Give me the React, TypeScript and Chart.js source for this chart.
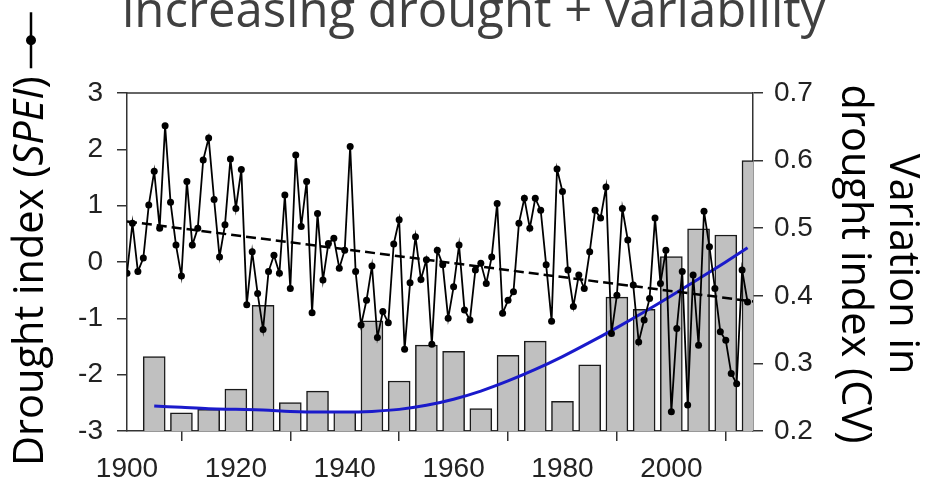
import React, { useEffect, useRef } from 'react';
import { Chart, registerables } from 'chart.js';

Chart.register(...registerables);

// ---------- data ----------
const TITLE = 'increasing drought + variability';
const LEFT_TITLE = ['Drought index (', 'SPEI', ')'];
const RIGHT_TITLE = ['Variation in', 'drought index (CV)'];

const FIRST_YEAR = 1900;
// annual drought index (SPEI), 1900..2014
const SPEI = [
  -0.2, 0.69, -0.17, 0.07, 1.01, 1.61, 0.6, 2.42, 1.06, 0.3,
  -0.25, 1.43, 0.3, 0.6, 1.81, 2.2, 1.11, 0.09, 0.66, 1.83,
  0.95, 1.64, -0.76, 0.18, -0.56, -1.2, -0.17, 0.12, -0.2, 1.19,
  -0.47, 1.9, 0.63, 1.43, -0.9, 0.86, -0.32, 0.33, 0.42, -0.11,
  0.21, 2.05, -0.17, -1.12, -0.68, -0.07, -1.34, -0.88, -1.08, 0.32,
  0.75, -1.55, -0.37, 0.45, -0.31, 0.04, -1.46, 0.21, -0.05, -1.0,
  -0.44, 0.3, -0.85, -1.03, -0.14, -0.02, -0.38, 0.09, 1.04, -0.91,
  -0.68, -0.53, 0.69, 1.13, 0.6, 1.13, 0.92, -0.05, -1.05, 1.65,
  1.25, -0.14, -0.79, -0.23, -0.47, 0.18, 0.92, 0.78, 1.33, -1.27,
  -0.59, 0.95, 0.39, -0.41, -1.42, -1.03, -0.65, 0.78, -0.38, 0.21,
  -2.66, -1.18, -0.17, -2.54, -0.23, -1.48, 0.9, 0.27, -0.47, -1.24,
  -1.39, -1.98, -2.16, -0.14, -0.71,
];
const SPEI_YEARS = SPEI.map((_, i) => FIRST_YEAR + i);

// linear trend of SPEI (dashed)
const TREND_YEARS = [1900, 2015];
const TREND = [0.72, -0.7];

// coefficient of variation per 5-year period (bars)
const BAR_YEARS = [1905, 1910, 1915, 1920, 1925, 1930, 1935, 1940, 1945, 1950, 1955, 1960,
  1965, 1970, 1975, 1980, 1985, 1990, 1995, 2000, 2005, 2010, 2015];
const CV_BARS = [0.31, 0.227, 0.232, 0.262, 0.386, 0.242, 0.259, 0.229, 0.363, 0.274, 0.327, 0.318,
  0.233, 0.312, 0.333, 0.244, 0.298, 0.398, 0.38, 0.458, 0.499, 0.49, 0.6];

// smoothed CV (blue curve)
const CURVE_YEARS = [1905, 1910, 1915, 1920, 1925, 1930, 1935, 1940, 1945, 1950, 1955, 1960,
  1965, 1970, 1975, 1980, 1985, 1990, 1995, 2000, 2005, 2010, 2014];
const CV_CURVE = [0.237, 0.235, 0.233, 0.232, 0.231, 0.229, 0.228, 0.228, 0.229, 0.232, 0.238, 0.247,
  0.259, 0.274, 0.291, 0.31, 0.331, 0.353, 0.376, 0.4, 0.425, 0.45, 0.471];

const X_TICKS = [1900, 1920, 1940, 1960, 1980, 2000];
const Y_TICKS = [-3, -2, -1, 0, 1, 2, 3];
const Y2_TICKS = [0.2, 0.3, 0.4, 0.5, 0.6, 0.7];

// ---------- layout ----------
const W = 926;
const H = 488;
const AREA = { left: 127, right: 753, top: 93, bottom: 431 };
const TICK_FONT = { family: '"Liberation Sans", Arial, sans-serif', size: 28 };
const TICK_COLOR = '#222';
const AXIS_COLOR = '#333';
const TEXT_FONT = '"Open Sans", "DejaVu Sans", sans-serif';
const AXIS_TITLE_SIZE = 41.5;

const pairs = (xs: number[], ys: number[]) => xs.map((x, i) => ({ x, y: ys[i] }));

const overlayPlugin = {
  id: 'overlayText',
  afterDraw(chart: any) {
    const ctx = chart.ctx as CanvasRenderingContext2D;
    const { left, right, top } = chart.chartArea;
    ctx.save();
    // top frame line
    ctx.strokeStyle = AXIS_COLOR;
    ctx.lineWidth = 1.5;
    ctx.beginPath();
    ctx.moveTo(left, top);
    ctx.lineTo(right, top);
    ctx.stroke();

    // title (cut at the top edge)
    ctx.fillStyle = '#404040';
    ctx.font = `49px ${TEXT_FONT}`;
    ctx.textAlign = 'left';
    ctx.textBaseline = 'alphabetic';
    ctx.fillText(TITLE, 122, 27);

    // left axis title with line symbol
    ctx.save();
    ctx.translate(43, 466);
    ctx.rotate(-Math.PI / 2);
    ctx.fillStyle = '#000';
    let x = 0;
    LEFT_TITLE.forEach((t, i) => {
      ctx.font = `${i === 1 ? 'italic ' : ''}${AXIS_TITLE_SIZE}px ${TEXT_FONT}`;
      ctx.fillText(t, x, 0);
      x += ctx.measureText(t).width;
    });
    const s0 = x + 8;
    const s1 = s0 + 56;
    ctx.strokeStyle = '#000';
    ctx.lineWidth = 2.5;
    ctx.beginPath();
    ctx.moveTo(s0, -12);
    ctx.lineTo(s1, -12);
    ctx.stroke();
    ctx.beginPath();
    ctx.arc((s0 + s1) / 2, -12, 5, 0, Math.PI * 2);
    ctx.fill();
    ctx.restore();

    // right axis title
    ctx.save();
    ctx.translate(890, 264);
    ctx.rotate(Math.PI / 2);
    ctx.fillStyle = '#000';
    ctx.textAlign = 'center';
    ctx.font = `${AXIS_TITLE_SIZE}px ${TEXT_FONT}`;
    ctx.fillText(RIGHT_TITLE[0], 0, 0);
    ctx.fillText(RIGHT_TITLE[1], 0, 48);
    ctx.restore();

    ctx.restore();
  },
};

export default function App() {
  const ref = useRef<HTMLCanvasElement | null>(null);

  useEffect(() => {
    document.body.style.margin = '0';
    const canvas = ref.current;
    if (!canvas) return;
    const chart = new Chart(canvas, {
      type: 'line',
      data: {
        datasets: [
          {
            type: 'line',
            label: 'SPEI',
            data: pairs(SPEI_YEARS, SPEI),
            yAxisID: 'y',
            borderColor: '#000',
            borderWidth: 1.8,
            pointRadius: 3.5,
            pointBackgroundColor: '#000',
            pointBorderColor: '#000',
            pointBorderWidth: 0,
            tension: 0,
            order: 1,
          },
          {
            type: 'line',
            label: 'trend',
            data: pairs(TREND_YEARS, TREND),
            yAxisID: 'y',
            borderColor: '#000',
            borderWidth: 2.5,
            borderDash: [10, 5],
            pointRadius: 0,
            order: 2,
          },
          {
            type: 'line',
            label: 'CV smooth',
            data: pairs(CURVE_YEARS, CV_CURVE),
            yAxisID: 'y2',
            borderColor: '#1a1acb',
            borderWidth: 3,
            pointRadius: 0,
            cubicInterpolationMode: 'monotone',
            order: 3,
          },
          {
            type: 'bar',
            label: 'CV',
            data: pairs(BAR_YEARS, CV_BARS),
            yAxisID: 'y2',
            backgroundColor: '#c0c0c0',
            borderColor: '#1a1a1a',
            borderWidth: 1.5,
            barThickness: 22,
            clip: 0,
            order: 4,
          } as any,
        ],
      },
      options: {
        responsive: false,
        animation: false,
        devicePixelRatio: 1,
        layout: { padding: { top: AREA.top, left: 0, right: 0, bottom: 0 } },
        plugins: { legend: { display: false }, tooltip: { enabled: false }, title: { display: false } },
        scales: {
          x: {
            type: 'linear',
            position: 'bottom',
            min: 1900,
            max: 2015,
            offset: false,
            afterFit: (s: any) => { s.height = H - AREA.bottom; },
            afterBuildTicks: (s: any) => { s.ticks = X_TICKS.map((v) => ({ value: v })); },
            ticks: {
              autoSkip: false,
              maxRotation: 0,
              padding: 11,
              color: TICK_COLOR,
              font: TICK_FONT,
              callback: (v: any) => String(v),
            },
            grid: { drawOnChartArea: false, drawTicks: true, tickLength: 10, color: AXIS_COLOR, lineWidth: 1.5 },
            border: { display: true, color: AXIS_COLOR, width: 1.5 },
          },
          y: {
            type: 'linear',
            position: 'left',
            min: -3,
            max: 3,
            afterFit: (s: any) => { s.width = AREA.left; },
            afterBuildTicks: (s: any) => { s.ticks = Y_TICKS.map((v) => ({ value: v })); },
            ticks: { padding: 14, color: TICK_COLOR, font: TICK_FONT, callback: (v: any) => String(v) },
            grid: { drawOnChartArea: false, drawTicks: true, tickLength: 10, color: AXIS_COLOR, lineWidth: 1.5 },
            border: { display: true, color: AXIS_COLOR, width: 1.5 },
          },
          y2: {
            type: 'linear',
            position: 'right',
            min: 0.2,
            max: 0.7,
            afterFit: (s: any) => { s.width = W - AREA.right; },
            afterBuildTicks: (s: any) => { s.ticks = Y2_TICKS.map((v) => ({ value: v })); },
            ticks: { padding: 11, color: TICK_COLOR, font: TICK_FONT, callback: (v: any) => Number(v).toFixed(1) },
            grid: { drawOnChartArea: false, drawTicks: true, tickLength: 10, color: AXIS_COLOR, lineWidth: 1.5 },
            border: { display: true, color: AXIS_COLOR, width: 1.5 },
          },
        },
      } as any,
      plugins: [overlayPlugin],
    });
    return () => chart.destroy();
  }, []);

  return (
    <div style={{ position: 'relative', width: W, height: H, overflow: 'hidden', background: '#fff' }}>
      <canvas ref={ref} width={W} height={H} style={{ display: 'block', width: W, height: H }} />
    </div>
  );
}
